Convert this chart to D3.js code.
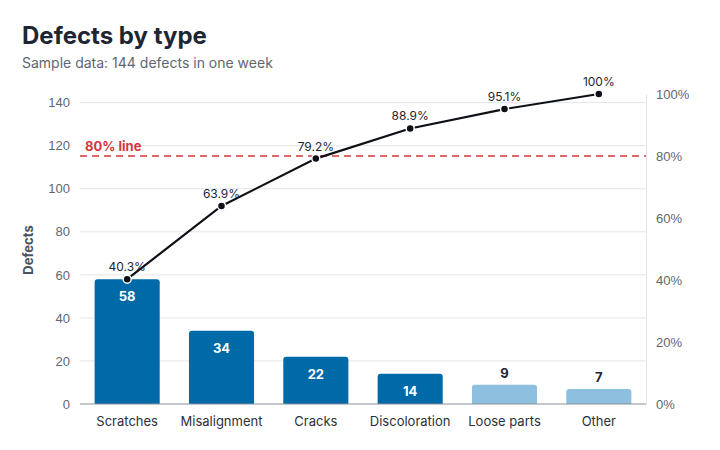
<!DOCTYPE html>
<html lang="en">
<head>
  <meta charset="UTF-8">
  <title>Defects by type – Pareto</title>
  <script src="https://d3js.org/d3.v7.min.js"></script>
  <style>
    body {
      margin: 0;
      background: #fff;
      font-family: Inter, "Noto Sans", sans-serif;
    }
    svg { display: block; }
    .tick text { font-size: 13px; fill: #5f6673; }
    .grid line { stroke: #e3e5e8; }
  </style>
</head>
<body>

<svg width="720" height="450"></svg>

<script>
  const categories = ["Scratches", "Misalignment", "Cracks", "Discoloration", "Loose parts", "Other"];
  const counts = [58, 34, 22, 14, 9, 7];
  const countTicks = [0, 20, 40, 60, 80, 100, 120, 140];
  const pctTicks = [0, 20, 40, 60, 80, 100];
  const threshold = 80;

  const svg = d3.select("svg");
  const margin = { top: 94, right: 74, bottom: 46, left: 80 };
  const width = 720, height = 450;

  const total = d3.sum(counts);
  let run = 0;
  const data = categories.map((c, i) => {
    const before = run / total * 100;
    run += counts[i];
    return { name: c, value: counts[i], before: before, cum: run / total * 100 };
  });

  const x = d3.scaleBand()
    .domain(categories)
    .range([margin.left, width - margin.right])
    .paddingInner(0.31)
    .paddingOuter(0.155);

  const y = d3.scaleLinear()
    .domain([0, total])
    .range([height - margin.bottom, margin.top]);

  const yPct = d3.scaleLinear()
    .domain([0, 100])
    .range([height - margin.bottom, margin.top]);

  // title
  svg.append("text")
    .attr("x", 22).attr("y", 44)
    .attr("font-size", 24).attr("font-weight", 700)
    .attr("fill", "#1e2633")
    .text("Defects by type");
  svg.append("text")
    .attr("x", 22).attr("y", 68)
    .attr("font-size", 14)
    .attr("fill", "#5f6673")
    .text("Sample data: " + total + " defects in one week");

  // gridlines
  svg.append("g")
    .attr("class", "grid")
    .selectAll("line")
    .data(countTicks.filter(d => d > 0))
    .join("line")
    .attr("x1", margin.left).attr("x2", width - margin.right)
    .attr("y1", d => y(d)).attr("y2", d => y(d));

  // left axis
  const yAxis = svg.append("g")
    .attr("transform", `translate(${margin.left},0)`)
    .call(d3.axisLeft(y).tickValues(countTicks).tickSize(0).tickPadding(10));
  yAxis.select(".domain").remove();

  // right axis
  const yAxisR = svg.append("g")
    .attr("transform", `translate(${width - margin.right},0)`)
    .call(d3.axisRight(yPct).tickValues(pctTicks).tickSize(0).tickPadding(10)
      .tickFormat(d => d + "%"));
  yAxisR.select(".domain").attr("stroke", "#e3e5e8");

  svg.append("text")
    .attr("transform", `translate(33,${(margin.top + height - margin.bottom) / 2 + 1}) rotate(-90)`)
    .attr("text-anchor", "middle")
    .attr("font-size", 13).attr("font-weight", 700)
    .attr("fill", "#4a5260")
    .text("Defects");

  // bars
  const r = 3;
  svg.append("g")
    .selectAll("path")
    .data(data)
    .join("path")
    .attr("fill", d => d.before < threshold ? "#006aa9" : "#8dbfdf")
    .attr("d", d => {
      const x0 = x(d.name), x1 = x0 + x.bandwidth();
      const y0 = y(d.value), yb = y(0);
      return `M${x0},${yb}V${y0 + r}Q${x0},${y0} ${x0 + r},${y0}H${x1 - r}Q${x1},${y0} ${x1},${y0 + r}V${yb}Z`;
    });

  // bar value labels
  svg.append("g")
    .selectAll("text")
    .data(data)
    .join("text")
    .attr("x", d => x(d.name) + x.bandwidth() / 2)
    .attr("y", d => d.before < threshold ? y(d.value) + 22 : y(d.value) - 7)
    .attr("text-anchor", "middle")
    .attr("font-size", 13).attr("font-weight", 700)
    .attr("fill", d => d.before < threshold ? "#fff" : "#1e2633")
    .text(d => d.value);

  // baseline
  svg.append("line")
    .attr("x1", margin.left).attr("x2", width - margin.right)
    .attr("y1", y(0)).attr("y2", y(0))
    .attr("stroke", "#8a9099").attr("stroke-width", 1.2);

  // x labels
  svg.append("g")
    .selectAll("text")
    .data(categories)
    .join("text")
    .attr("x", d => x(d) + x.bandwidth() / 2)
    .attr("y", height - margin.bottom + 22)
    .attr("text-anchor", "middle")
    .attr("font-size", 13)
    .attr("fill", "#2b313b")
    .text(d => d);

  // 80% line
  svg.append("line")
    .attr("x1", margin.left).attr("x2", width - margin.right)
    .attr("y1", yPct(threshold)).attr("y2", yPct(threshold))
    .attr("stroke", "#d6363a").attr("stroke-width", 1.4)
    .attr("stroke-dasharray", "7,5");
  svg.append("text")
    .attr("x", margin.left + 5).attr("y", yPct(threshold) - 5)
    .attr("font-size", 13).attr("font-weight", 700)
    .attr("fill", "#d6363a")
    .text(threshold + "% line");

  // cumulative line
  const cx = d => x(d.name) + x.bandwidth() / 2;
  svg.append("path")
    .datum(data)
    .attr("fill", "none")
    .attr("stroke", "#0d1117").attr("stroke-width", 2.2)
    .attr("d", d3.line().x(cx).y(d => yPct(d.cum)));

  svg.append("g")
    .selectAll("circle")
    .data(data)
    .join("circle")
    .attr("cx", cx).attr("cy", d => yPct(d.cum))
    .attr("r", 4)
    .attr("fill", "#0d1117")
    .attr("stroke", "#fff").attr("stroke-width", 1.5);

  svg.append("g")
    .selectAll("text")
    .data(data)
    .join("text")
    .attr("x", cx).attr("y", d => yPct(d.cum) - 8)
    .attr("text-anchor", "middle")
    .attr("font-size", 12)
    .attr("fill", "#1e2633")
    .text(d => d.cum === 100 ? "100%" : d3.format(".1f")(d.cum) + "%");
</script>
</body>
</html>
